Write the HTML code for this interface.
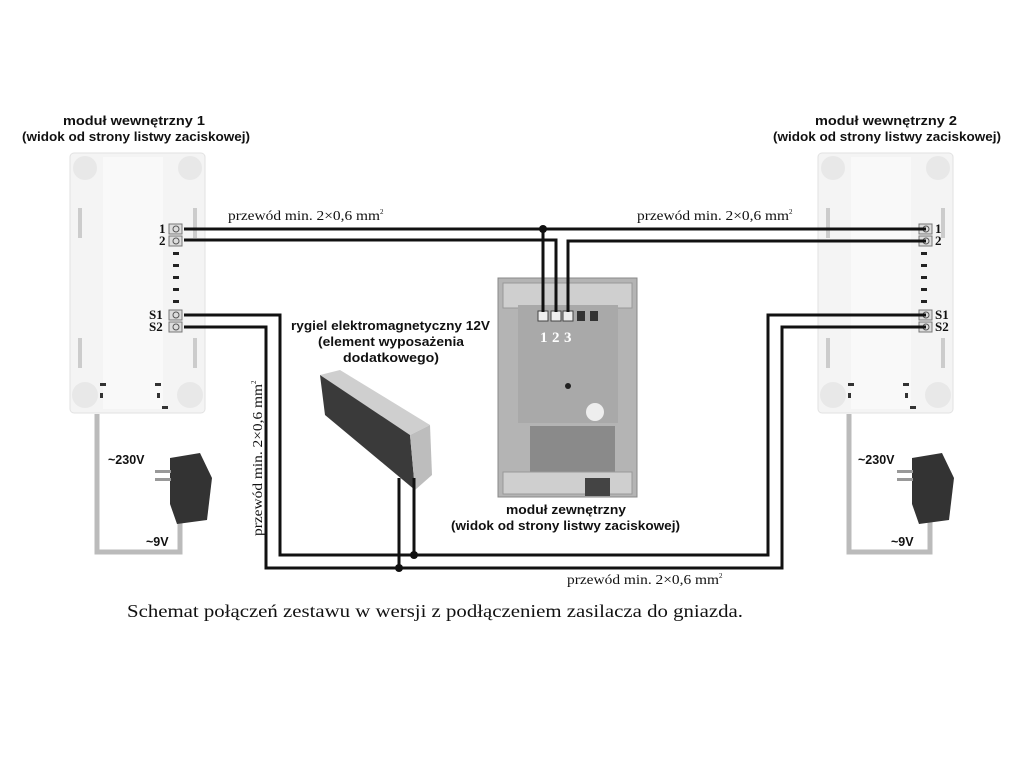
<!DOCTYPE html>
<html><head><meta charset="utf-8"><style>
body{margin:0;background:#fff;width:1024px;height:768px;overflow:hidden;font-family:"Liberation Sans",sans-serif}
</style></head><body>
<svg width="1024" height="768" viewBox="0 0 1024 768" xmlns="http://www.w3.org/2000/svg">
<defs>
<g id="mod">
<rect x="0" y="0" width="135" height="260" rx="4" fill="#f4f4f4" stroke="#e2e2e2"/>
<rect x="33" y="4" width="60" height="252" fill="#f9f9f9"/>
<circle cx="15" cy="15" r="12" fill="#e8e8e8"/>
<circle cx="120" cy="15" r="12" fill="#e8e8e8"/>
<circle cx="15" cy="242" r="13" fill="#e8e8e8"/>
<circle cx="120" cy="242" r="13" fill="#e8e8e8"/>
<rect x="8" y="55" width="4" height="30" fill="#ccc"/>
<rect x="123" y="55" width="4" height="30" fill="#ccc"/>
<rect x="8" y="185" width="4" height="30" fill="#ccc"/>
<rect x="123" y="185" width="4" height="30" fill="#ccc"/>
<rect x="30" y="230" width="6" height="3" fill="#333"/>
<rect x="85" y="230" width="6" height="3" fill="#333"/>
<rect x="30" y="240" width="3" height="5" fill="#333"/>
<rect x="87" y="240" width="3" height="5" fill="#333"/>
<rect x="92" y="253" width="6" height="3" fill="#333"/>
</g>
<g id="term">
<rect x="-7" y="-5" width="13" height="10" fill="#ddd" stroke="#777"/>
<circle cx="0" cy="0" r="3" fill="none" stroke="#555"/>
</g>
</defs>

<use href="#mod" x="70" y="153"/>
<g fill="#222">
<rect x="173" y="252" width="6" height="3"/><rect x="173" y="264" width="6" height="3"/>
<rect x="173" y="276" width="6" height="3"/><rect x="173" y="288" width="6" height="3"/><rect x="173" y="300" width="6" height="3"/>
</g>
<use href="#term" x="176" y="229"/><use href="#term" x="176" y="241"/>
<use href="#term" x="176" y="315"/><use href="#term" x="176" y="327"/>
<g font-family="Liberation Serif,serif" font-weight="bold" font-size="13" fill="#111">
<text x="159" y="233">1</text><text x="159" y="245">2</text>
<text x="149" y="319">S1</text><text x="149" y="331">S2</text>
</g>

<use href="#mod" x="818" y="153"/>
<g fill="#222">
<rect x="921" y="252" width="6" height="3"/><rect x="921" y="264" width="6" height="3"/>
<rect x="921" y="276" width="6" height="3"/><rect x="921" y="288" width="6" height="3"/><rect x="921" y="300" width="6" height="3"/>
</g>
<use href="#term" x="926" y="229"/><use href="#term" x="926" y="241"/>
<use href="#term" x="926" y="315"/><use href="#term" x="926" y="327"/>
<g font-family="Liberation Serif,serif" font-weight="bold" font-size="13" fill="#111">
<text x="935" y="233">1</text><text x="935" y="245">2</text>
<text x="935" y="319">S1</text><text x="935" y="331">S2</text>
</g>

<g font-weight="bold" font-size="12.5" fill="#111">
<text x="63" y="125" textLength="142" lengthAdjust="spacingAndGlyphs">moduł wewnętrzny 1</text>
<text x="22" y="141" textLength="228" lengthAdjust="spacingAndGlyphs">(widok od strony listwy zaciskowej)</text>
<text x="815" y="125" textLength="142" lengthAdjust="spacingAndGlyphs">moduł wewnętrzny 2</text>
<text x="773" y="141" textLength="228" lengthAdjust="spacingAndGlyphs">(widok od strony listwy zaciskowej)</text>
<text x="291" y="330" textLength="199" lengthAdjust="spacingAndGlyphs">rygiel elektromagnetyczny 12V</text>
<text x="318" y="346" textLength="146" lengthAdjust="spacingAndGlyphs">(element wyposażenia</text>
<text x="343" y="362" textLength="96" lengthAdjust="spacingAndGlyphs">dodatkowego)</text>
<text x="506" y="514" textLength="120" lengthAdjust="spacingAndGlyphs">moduł zewnętrzny</text>
<text x="451" y="530" textLength="229" lengthAdjust="spacingAndGlyphs">(widok od strony listwy zaciskowej)</text>
</g>

<rect x="498" y="278" width="139" height="219" fill="#b4b4b4" stroke="#888"/>
<rect x="503" y="283" width="129" height="25" fill="#cfcfcf" stroke="#999"/>
<rect x="518" y="305" width="100" height="118" fill="#a9a9a9"/>
<rect x="530" y="426" width="85" height="48" fill="#8a8a8a"/>
<rect x="503" y="472" width="129" height="22" fill="#cfcfcf" stroke="#999"/>
<rect x="585" y="478" width="25" height="18" fill="#444"/>
<circle cx="568" cy="386" r="3" fill="#222"/>
<circle cx="595" cy="412" r="9" fill="#eee"/>
<g fill="#eee" stroke="#444"><rect x="538" y="311" width="10" height="10"/><rect x="551" y="311" width="10" height="10"/><rect x="563" y="311" width="10" height="10"/></g>
<g fill="#333"><rect x="577" y="311" width="8" height="10"/><rect x="590" y="311" width="8" height="10"/></g>
<g font-family="Liberation Serif,serif" font-weight="bold" font-size="15" fill="#fff">
<text x="540" y="342">1</text><text x="552" y="342">2</text><text x="564" y="342">3</text>
</g>

<g transform="translate(320,375)">
<polygon points="0,0 20,-5 110,50 90,60" fill="#cfcfcf"/>
<polygon points="0,0 90,60 95,115 5,40" fill="#3a3a3a"/>
<polygon points="90,60 110,50 112,100 95,115" fill="#bdbdbd"/>
</g>

<polyline points="97,414 97,552 180,552 180,522" fill="none" stroke="#bbb" stroke-width="5"/>
<polyline points="849,414 849,552 930,552 930,522" fill="none" stroke="#bbb" stroke-width="5"/>
<g fill="#333"><path d="M170,458 l30,-5 12,25 -5,42 -30,4 -7,-20z"/><rect x="155" y="470" width="16" height="3" fill="#999"/><rect x="155" y="478" width="16" height="3" fill="#999"/></g>
<g fill="#333"><path d="M912,458 l30,-5 12,25 -5,42 -30,4 -7,-20z"/><rect x="897" y="470" width="16" height="3" fill="#999"/><rect x="897" y="478" width="16" height="3" fill="#999"/></g>
<g font-weight="bold" font-size="12.5" fill="#111">
<text x="108" y="464">~230V</text><text x="146" y="546">~9V</text>
<text x="858" y="464">~230V</text><text x="891" y="546">~9V</text>
</g>

<g fill="none" stroke="#111" stroke-width="3">
<polyline points="184,229 926,229"/>
<polyline points="543,229 543,312"/>
<polyline points="184,240 556,240 556,312"/>
<polyline points="568,312 568,241 926,241"/>
<polyline points="184,315 280,315 280,555 768,555 768,315 926,315"/>
<polyline points="184,327 266,327 266,568 782,568 782,327 926,327"/>
<polyline points="399,478 399,568"/>
<polyline points="414,478 414,555"/>
</g>
<g fill="#111"><circle cx="543" cy="229" r="4"/><circle cx="399" cy="568" r="4"/><circle cx="414" cy="555" r="4"/></g>

<g font-family="Liberation Serif,serif" font-size="14" fill="#111">
<text x="228" y="220"><tspan textLength="152" lengthAdjust="spacingAndGlyphs">przewód min. 2×0,6 mm</tspan><tspan font-size="7" dy="-6">2</tspan></text>
<text x="637" y="220"><tspan textLength="152" lengthAdjust="spacingAndGlyphs">przewód min. 2×0,6 mm</tspan><tspan font-size="7" dy="-6">2</tspan></text>
<text x="567" y="584"><tspan textLength="152" lengthAdjust="spacingAndGlyphs">przewód min. 2×0,6 mm</tspan><tspan font-size="7" dy="-6">2</tspan></text>
<text transform="translate(262,536) rotate(-90)"><tspan textLength="152" lengthAdjust="spacingAndGlyphs">przewód min. 2×0,6 mm</tspan><tspan font-size="7" dy="-6">2</tspan></text>
<text x="127" y="617" font-size="18" textLength="616" lengthAdjust="spacingAndGlyphs">Schemat połączeń zestawu w wersji z podłączeniem zasilacza do gniazda.</text>
</g>
</svg>
</body></html>
